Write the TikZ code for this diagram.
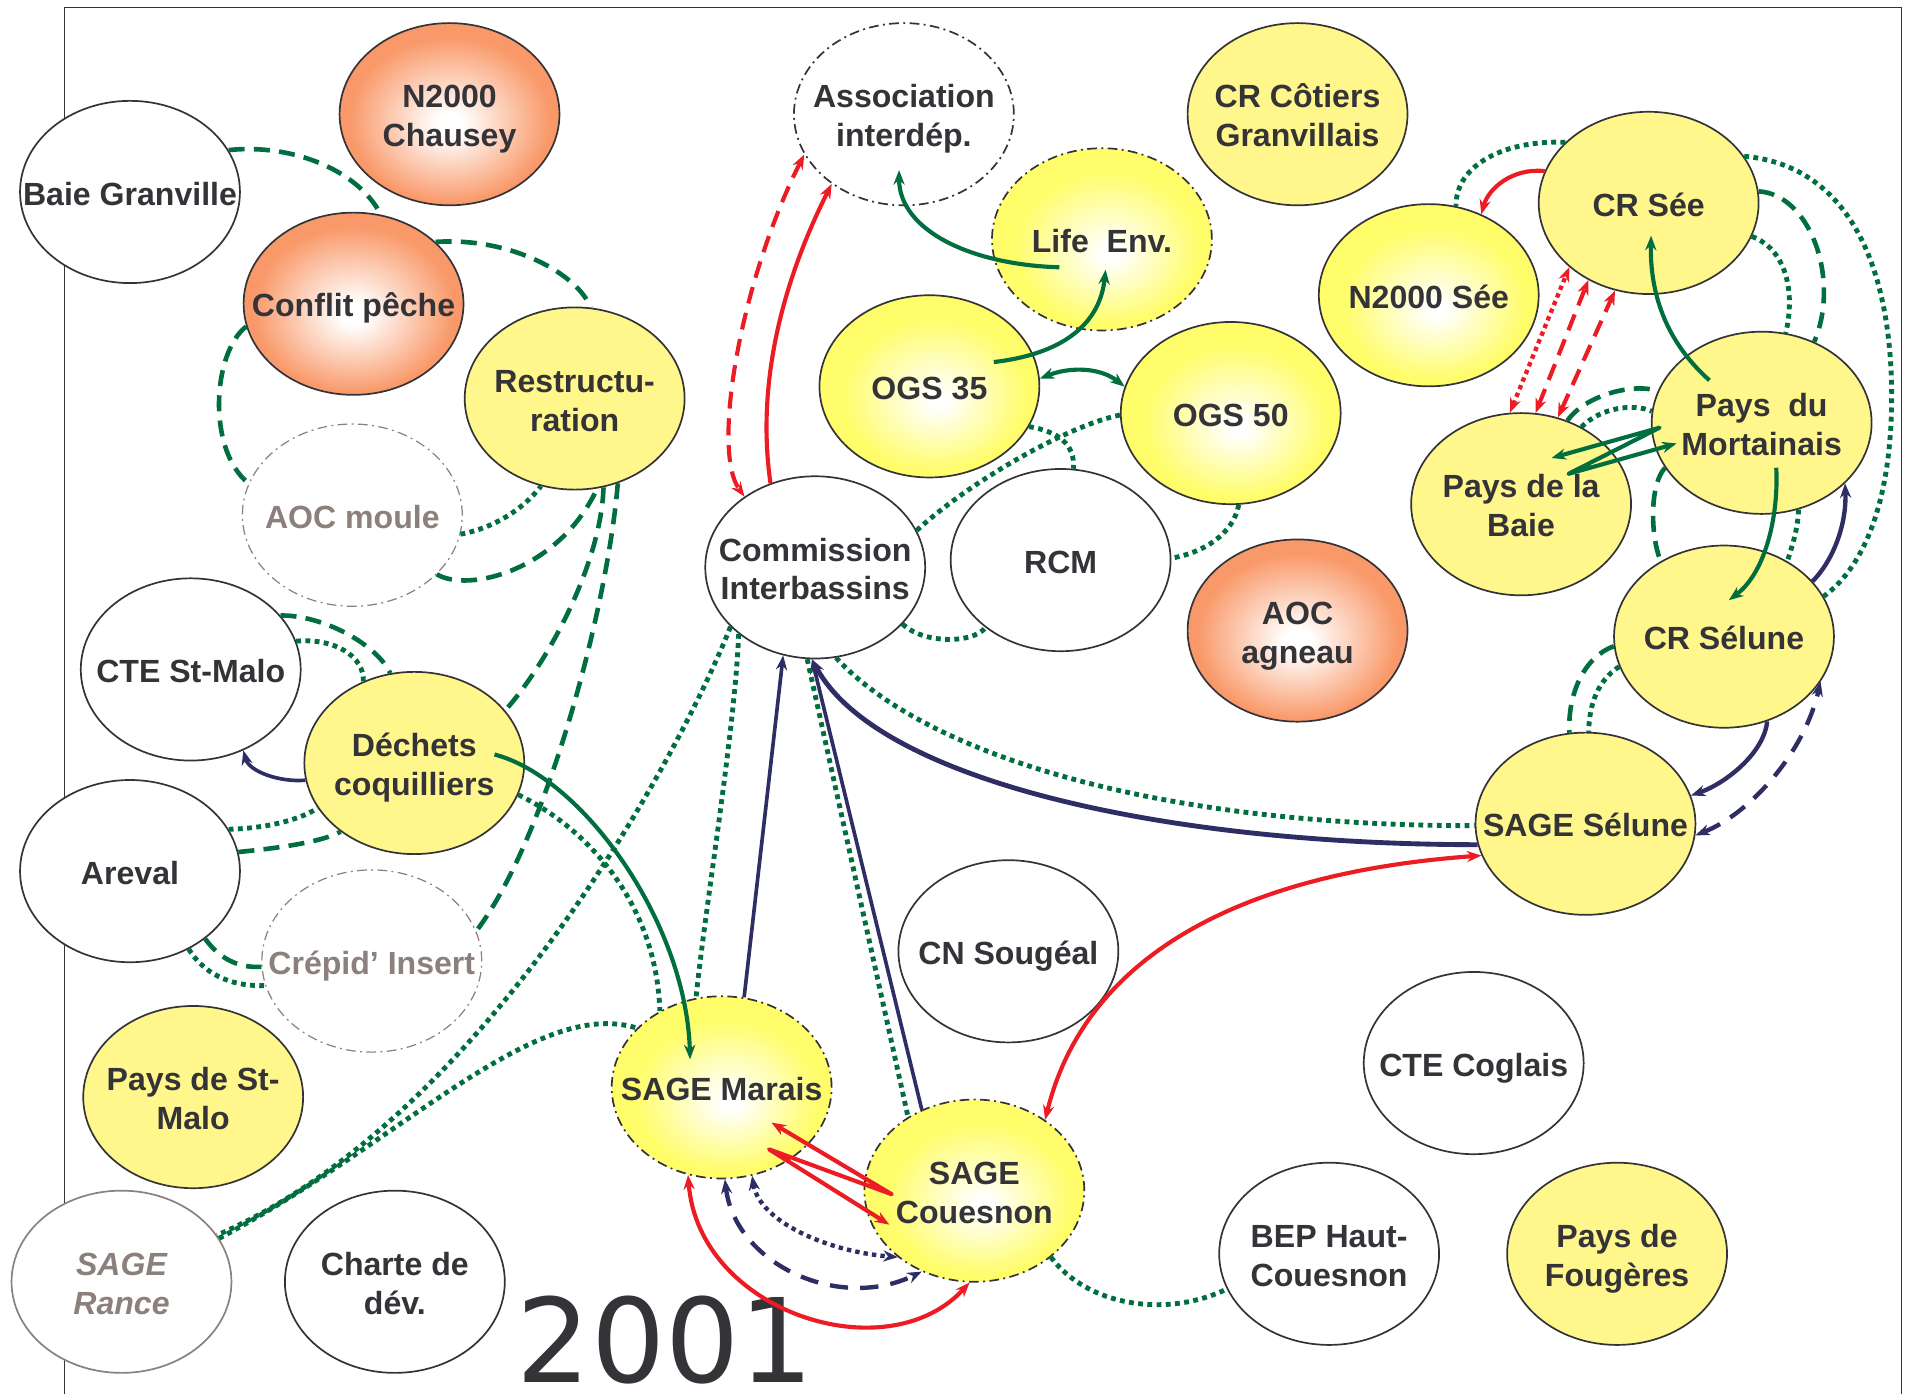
\documentclass[tikz,border=0pt]{standalone}
\usepackage{fontspec}
\setmainfont{Liberation Sans}
\newfontfamily\yearfont{DejaVu Sans}
\usetikzlibrary{shapes.geometric,arrows.meta,calc}

\definecolor{txtgray}{RGB}{51,51,56}
\definecolor{ghostgray}{RGB}{140,128,124}
\definecolor{linkgreen}{RGB}{0,110,62}
\definecolor{linkred}{RGB}{236,28,36}
\definecolor{linknavy}{RGB}{46,46,100}
\definecolor{yflat}{RGB}{255,246,140}
\definecolor{yglow}{RGB}{255,253,105}
\definecolor{oglow}{RGB}{249,152,104}

\pgfdeclareradialshading{orangeglow}{\pgfpoint{0bp}{-3bp}}{color(0bp)=(white); color(3bp)=(white); color(23bp)=(oglow); color(50bp)=(oglow)}
\pgfdeclareradialshading{yellowglow}{\pgfpoint{2bp}{-4bp}}{color(0bp)=(white); color(2bp)=(white); color(21bp)=(yglow); color(50bp)=(yglow)}

\newcommand\ntxt[1]{\makebox[0pt]{\raisebox{-2.2pt}[\height][\depth]{\begin{tabular}{@{}c@{}}#1\end{tabular}}}}

\tikzset{
  actor/.style={ellipse, minimum width=90.5pt, minimum height=75pt, inner sep=0pt,
    draw=txtgray, line width=0.7pt, text=txtgray, font=\bfseries\fontsize{13.2}{16}\selectfont},
  plain/.style={actor, fill=white},
  flat/.style={actor, fill=yflat},
  glowy/.style={actor, shade, shading=yellowglow},
  glowo/.style={actor, shade, shading=orangeglow},
  dashdot/.style={dash pattern=on 4pt off 1.8pt on 0.8pt off 1.8pt},
  ghost/.style={actor, fill=white, draw=ghostgray, dashdot, line width=0.5pt, text=ghostgray},
  ghostsolid/.style={plain, draw=ghostgray, text=ghostgray, font=\bfseries\itshape\fontsize{13.2}{16}\selectfont},
  gsolid/.style={linkgreen, line width=1.7pt},
  gdash/.style={linkgreen, line width=1.9pt, dash pattern=on 6.6pt off 3.8pt},
  gdot/.style={linkgreen, line width=2pt, dash pattern=on 2pt off 1.8pt},
  rsolid/.style={linkred, line width=1.7pt},
  rdash/.style={linkred, line width=1.7pt, dash pattern=on 7pt off 4pt},
  rdot/.style={linkred, line width=1.8pt, dash pattern=on 1.8pt off 1.6pt},
  nsolid/.style={linknavy, line width=1.5pt},
  ndash/.style={linknavy, line width=1.8pt, dash pattern=on 7.5pt off 5pt},
  ndot/.style={linknavy, line width=1.8pt, dash pattern=on 1.8pt off 1.7pt}
}

\begin{document}
\begin{tikzpicture}[x=0.5pt,y=-0.5pt,>={Stealth[length=6pt,width=4.6pt]}]
\useasboundingbox (0,0) rectangle (1568,1147);

%frame
\draw[txtgray, line width=0.6pt] (53,1147) -- (53,6) -- (1565,6) -- (1565,1147);

%Shape: Ellipse -- left side
\node[plain] (bg) at (107,158) {\ntxt{Baie Granville}};
\node[glowo] (nc) at (370,94) {\ntxt{N2000\\Chausey}};
\node[glowo] (cp) at (291,250) {\ntxt{Conflit pêche}};
\node[flat] (rs) at (473,328) {\ntxt{Restructu-\\ration}};
\node[ghost] (am) at (290,424) {\ntxt{AOC moule}};
\node[plain] (ctesm) at (157,551) {\ntxt{CTE St-Malo}};
\node[flat] (dc) at (341,628) {\ntxt{Déchets\\coquilliers}};
\node[plain] (ar) at (107,717) {\ntxt{Areval}};
\node[ghost] (ci) at (306,791) {\ntxt{Crépid’ Insert}};
\node[flat] (psm) at (159,903) {\ntxt{Pays de St-\\Malo}};
\node[ghostsolid] (sr) at (100,1055) {\ntxt{SAGE\\Rance}};
\node[plain] (cd) at (325,1055) {\ntxt{Charte de\\dév.}};

%Shape: Ellipse -- centre
\node[plain, dashdot] (ai) at (744,94) {\ntxt{Association\\interdép.}};
\node[flat] (crc) at (1068,94) {\ntxt{CR Côtiers\\Granvillais}};
\node[glowy, dashdot] (le) at (907,197) {\ntxt{Life\ \ Env.}};
\node[glowy] (ogsa) at (765,318) {\ntxt{OGS 35}};
\node[glowy] (ogsb) at (1013,340) {\ntxt{OGS 50}};
\node[plain] (cib) at (671,467) {\ntxt{Commission\\Interbassins}};
\node[plain] (rcm) at (873,461) {\ntxt{RCM}};
\node[glowo] (aoca) at (1068,519) {\ntxt{AOC\\agneau}};
\node[plain] (cns) at (830,783) {\ntxt{CN Sougéal}};
\node[glowy, dashdot] (sm) at (594,895) {\ntxt{SAGE Marais}};
\node[glowy, dashdot] (sc) at (802,980) {\ntxt{SAGE\\Couesnon}};
\node[plain] (bep) at (1094,1032) {\ntxt{BEP Haut-\\Couesnon}};

%Shape: Ellipse -- right side
\node[flat] (crs) at (1357,167) {\ntxt{CR Sée}};
\node[glowy] (ns) at (1176,243) {\ntxt{N2000 Sée}};
\node[flat] (pm) at (1450,348) {\ntxt{Pays\ \ du\\Mortainais}};
\node[flat] (pb) at (1252,415) {\ntxt{Pays de la\\Baie}};
\node[flat] (crsl) at (1419,524) {\ntxt{CR Sélune}};
\node[flat] (ssl) at (1305,678) {\ntxt{SAGE Sélune}};
\node[plain] (ctec) at (1213,875) {\ntxt{CTE Coglais}};
\node[flat] (pf) at (1331,1032) {\ntxt{Pays de\\Fougères}};

% Text Node
\node[font=\yearfont\fontsize{48}{52}\selectfont, text=txtgray, anchor=base west, inner sep=0pt] (yr) at (425,1138) {2001};

%Curve Lines -- left side
\draw[gdash] (bg.23) .. controls (240,118) and (295,140) .. (cp.73);
\draw[gdash] (cp.37) .. controls (420,195) and (475,225) .. (rs.80);
\draw[gdash] (cp.192) .. controls (175,290) and (170,370) .. (am.163);
\draw[gdot] (am.350) .. controls (405,435) and (430,420) .. (rs.249);
\draw[gdash] (am.325) .. controls (385,488) and (460,470) .. (rs.284);
\draw[gdash] (rs.288) .. controls (495,460) and (455,540) .. (dc.30);
\draw[gdash] (rs.297) .. controls (500,500) and (450,690) .. (ci.16);
\draw[gdash] (ctesm.31) .. controls (265,506) and (310,530) .. (dc.105);
\draw[gdot] (ctesm.15) .. controls (275,525) and (300,540) .. (dc.122);
\draw[nsolid,->] (dc.189) .. controls (230,644) and (205,635) .. (ctesm.303);
\draw[gdot] (ar.23) .. controls (215,682) and (245,676) .. (dc.205);
\draw[gdash] (ar.10) .. controls (230,698) and (265,693) .. (dc.223);
\draw[gdash] (ar.318) .. controls (180,788) and (195,797) .. (ci.183);
\draw[gdot] (ar.307) .. controls (170,805) and (195,812) .. (ci.193);
\draw[gsolid,->] ($(dc)+(66,-7)$) .. controls (480,640) and (565,760) .. ($(sm)+(-26,-23)$);
\draw[gdot] (dc.343) .. controls (480,680) and (540,740) .. (sm.129);
\draw[gdot] (sr.24) .. controls (330,940) and (440,820) .. (sm.145);
\draw[gdot] (cib.215) .. controls (560,620) and (400,920) .. (sr.26);

%Curve Lines -- centre
\draw[rsolid,->] (cib.118) .. controls (620,300) and (655,210) .. (ai.224);
\draw[rdash,<->] (ai.202) .. controls (610,230) and (585,370) .. (cib.135);
\draw[gsolid,->] ($(le)+(-35,23)$) .. controls (800,218) and (740,190) .. ($(ai)+(-4,46)$);
\draw[gsolid,->] ($(ogsa)+(53,-20)$) .. controls (870,292) and (905,270) .. ($(le)+(3,25)$);
\draw[gsolid,<->] (ogsa.4) .. controls (880,302) and (905,302) .. (ogsb.166);
\draw[gdot] (ogsa.338) .. controls (870,355) and (885,365) .. (rcm.82);
\draw[gdot] (ogsb.181) .. controls (880,350) and (800,395) .. (cib.20);
\draw[gdot] (ogsb.275) .. controls (1015,440) and (990,455) .. (rcm.1);
\draw[gdot] (cib.327) .. controls (760,530) and (800,530) .. (rcm.222);
\draw[gdot] (cib.221) .. controls (605,600) and (580,750) .. (sm.106);
\draw[nsolid,->] (sm.76) -- (cib.250);
\draw[nsolid,->] (sc.123) -- (cib.268);
\draw[gdot] (cib.265) -- (sc.132);
\draw[nsolid,line width=2pt,->] (ssl.191) .. controls (950,695) and (720,640) .. (cib.268);
\draw[gdot] (cib.283) .. controls (760,620) and (950,680) .. (ssl.181);
\draw[rsolid,<->] (sc.45) .. controls (890,800) and (1000,720) .. (ssl.197);

%Curve Lines -- SAGE Marais / Couesnon
\draw[rsolid,line join=round,<->] ($(sm)+(41,29)$) -- ($(sc)+(-68,3)$) -- ($(sm)+(39,51)$) -- ($(sc)+(-70,28)$);
\draw[rsolid,<->] (sm.249) .. controls (575,1080) and (730,1130) .. (sc.267);
\draw[ndash,<->] (sm.272) .. controls (605,1040) and (690,1080) .. (sc.237);
\draw[ndot,<->] (sm.289) .. controls (625,1005) and (680,1030) .. (sc.221);
\draw[gdot] (sc.319) .. controls (895,1075) and (960,1085) .. (bep.199);

%Curve Lines -- right side
\draw[rsolid,->] (crs.163) .. controls (1245,138) and (1225,155) .. (ns.57);
\draw[gdot] (crs.144) .. controls (1240,115) and (1198,135) .. (ns.73);
\draw[gdash] (crs.6) .. controls (1490,160) and (1515,230) .. (pm.57);
\draw[gdot] (crs.342) .. controls (1470,205) and (1478,240) .. (pm.75);
\draw[gdot] (crs.26) .. controls (1510,135) and (1555,200) .. (1557,320) .. controls (1558,420) and (1530,470) .. (crsl.22);
\draw[gsolid,->] ($(pm)+(-43,-35)$) .. controls (1370,280) and (1358,240) .. ($(crs)+(2,27)$);
\draw[gsolid,->] ($(pm)+(12,37)$) .. controls (1464,420) and (1455,470) .. ($(crsl)+(4,-30)$);
\draw[rdot,<->] (pb.97) -- (crs.219);
\draw[rdash,<->] (pb.81) -- (crs.232);
\draw[rdash,<->] (pb.67) -- (crs.249);
\draw[gsolid,line join=round,<->] ($(pb)+(25,-38)$) -- ($(pm)+(-84,4)$) -- ($(pb)+(39,-25)$) -- ($(pm)+(-70,17)$);
\draw[gdash] (pb.61) .. controls (1305,325) and (1345,315) .. (pm.163);
\draw[gdot] (pb.52) .. controls (1318,335) and (1345,332) .. (pm.174);
\draw[gdash] (pm.205) .. controls (1358,398) and (1358,440) .. (crsl.130);
\draw[gdot] (pm.293) .. controls (1480,435) and (1475,450) .. (crsl.50);
\draw[nsolid,line width=1.8pt,->] (crsl.32) .. controls (1510,460) and (1520,430) .. (pm.324);
\draw[gdash] (crsl.185) .. controls (1305,540) and (1290,570) .. (ssl.100);
\draw[gdot] (crsl.196) .. controls (1315,560) and (1308,580) .. (ssl.88);
\draw[nsolid,line width=1.8pt,->] (crsl.297) .. controls (1452,620) and (1420,645) .. (ssl.15);
\draw[ndash,<->] (ssl.354) .. controls (1440,670) and (1485,620) .. (crsl.335);

\end{tikzpicture}
\end{document}
